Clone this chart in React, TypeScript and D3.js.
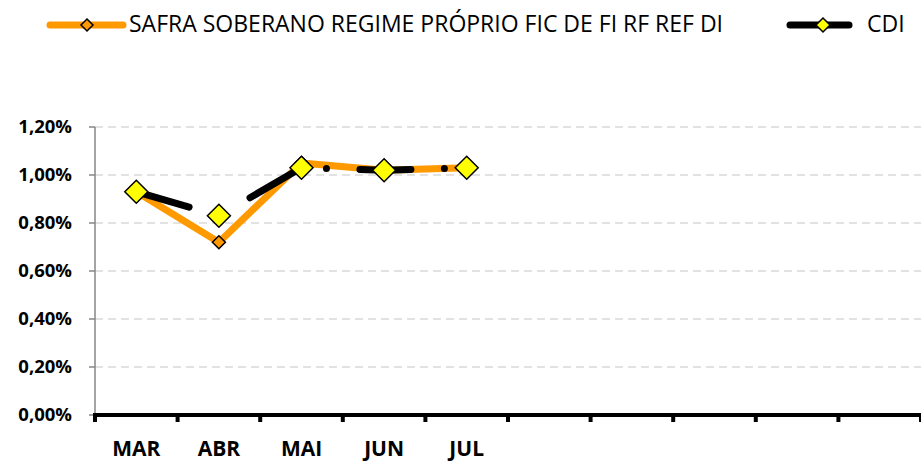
import React from 'react';
import * as d3 from 'd3';

const categories = ['MAR', 'ABR', 'MAI', 'JUN', 'JUL', '', '', '', '', ''];
const safraValues = [0.0093, 0.0072, 0.0105, 0.0102, 0.0103];
const cdiValues = [0.0093, 0.0083, 0.0103, 0.0102, 0.0103];
const yTicks = [0, 0.002, 0.004, 0.006, 0.008, 0.01, 0.012];
const legendLabels = ['SAFRA SOBERANO REGIME PRÓPRIO FIC DE FI RF REF DI', 'CDI'];

const W = 921;
const H = 461;
const FONT = "'Open Sans', 'Liberation Sans', sans-serif";

function diamond(cx: number, cy: number, r: number) {
  return `M${cx},${cy - r}L${cx + r},${cy}L${cx},${cy + r}L${cx - r},${cy}Z`;
}

export default function App() {
  const x = d3.scaleBand<number>().domain(d3.range(categories.length)).range([95, 921]);
  const y = d3.scaleLinear().domain([0, 0.012]).range([415, 127]);
  const cx = (i: number) => (x(i) as number) + x.bandwidth() / 2;
  const line = d3.line<number>().x((_, i) => cx(i)).y((d) => y(d));
  const fmt = (v: number) => (v * 100).toFixed(2).replace('.', ',') + '%';

  const boundaries = d3.range(categories.length + 1).map((i) => 95 + i * x.bandwidth());

  return (
    <div style={{ position: 'absolute', left: 0, top: 0 }}>
      <svg width={W} height={H} style={{ display: 'block', background: '#fff' }}>
        {/* gridlines */}
        {yTicks.filter((t) => t > 0).map((t) => (
          <line key={'g' + t} x1={95} x2={921} y1={y(t)} y2={y(t)} stroke="#d9d9d9" strokeWidth={1.5} strokeDasharray="8,5" />
        ))}
        {/* y axis */}
        <line x1={95} x2={95} y1={y(0.012)} y2={415} stroke="#868686" strokeWidth={1.5} />
        {yTicks.map((t) => (
          <g key={'t' + t}>
            <line x1={89} x2={95} y1={y(t)} y2={y(t)} stroke="#868686" strokeWidth={1.5} />
            <text x={72} y={y(t)} dy="0.35em" textAnchor="end" fontFamily={FONT} fontWeight="bold" fontSize={18.5} fill="#000">
              {fmt(t)}
            </text>
          </g>
        ))}
        {/* x axis */}
        <line x1={93} x2={921} y1={415} y2={415} stroke="#000" strokeWidth={4} />
        {boundaries.map((b, i) => (
          <line key={'b' + i} x1={b} x2={b} y1={415} y2={422} stroke="#000" strokeWidth={4} />
        ))}
        {categories.map((c, i) => (
          c ? (
            <text key={'c' + i} x={cx(i)} y={456} textAnchor="middle" fontFamily={FONT} fontWeight="bold" fontSize={21} fill="#000">
              {c}
            </text>
          ) : null
        ))}
        {/* safra series */}
        <path d={line(safraValues) || ''} fill="none" stroke="#FF9900" strokeWidth={7} strokeLinejoin="round" />
        {safraValues.map((v, i) => (
          <path key={'s' + i} d={diamond(cx(i), y(v), 6.5)} fill="#FF9900" stroke="#000" strokeWidth={1.5} />
        ))}
        {/* cdi series */}
        <path d={line(cdiValues) || ''} fill="none" stroke="#000" strokeWidth={7} strokeLinecap="round" strokeLinejoin="round" strokeDasharray="51,33.5,0,33.5" strokeDashoffset={-4} />
        {cdiValues.map((v, i) => (
          <path key={'c' + i} d={diamond(cx(i), y(v), 11.5)} fill="#FFFF00" stroke="#000" strokeWidth={1.5} />
        ))}
        {/* legend */}
        <line x1={50} x2={123} y1={25} y2={25} stroke="#FF9900" strokeWidth={7} strokeLinecap="round" />
        <path d={diamond(87, 25, 6)} fill="#FF9900" stroke="#000" strokeWidth={1.5} />
        <text x={129} y={32} fontFamily={FONT} fontSize={23} fill="#000">{legendLabels[0]}</text>
        <line x1={790} x2={849} y1={25} y2={25} stroke="#000" strokeWidth={7} strokeLinecap="round" />
        <path d={diamond(823, 25, 7)} fill="#FFFF00" stroke="#000" strokeWidth={1.5} />
        <text x={867} y={32} fontFamily={FONT} fontSize={23} fill="#000">{legendLabels[1]}</text>
      </svg>
    </div>
  );
}
